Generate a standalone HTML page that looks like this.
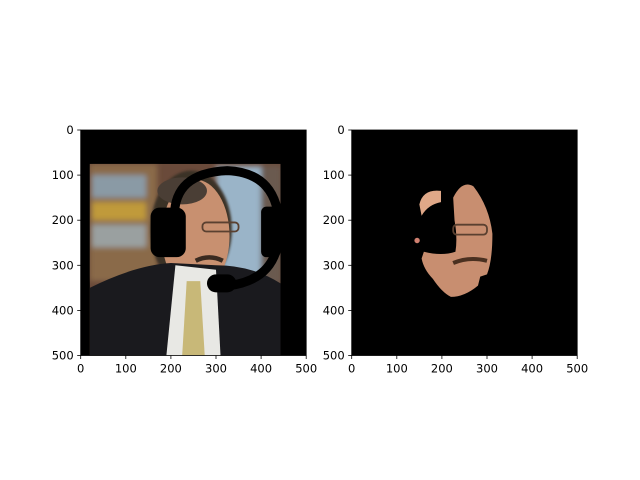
<!DOCTYPE html>
<html><head><meta charset="utf-8"><style>
html,body{margin:0;padding:0;background:#fff;width:640px;height:480px;overflow:hidden}
svg{position:absolute;left:0;top:0}
text{font-family:"DejaVu Sans","Liberation Sans",sans-serif;font-size:11.5px;fill:#000}
</style></head><body>
<svg id="fig" width="640" height="480">
<defs>
<filter id="bl" x="-10%" y="-10%" width="120%" height="120%"><feGaussianBlur stdDeviation="6"/></filter>
<filter id="bl2"><feGaussianBlur stdDeviation="3"/></filter>
<clipPath id="photoClip"><rect x="20" y="75" width="423" height="425"/></clipPath>
</defs>
<g transform="translate(80.7,130) scale(0.451)">
<rect width="500" height="500" fill="#000"/>
<g clip-path="url(#photoClip)">
<rect x="20" y="75" width="423" height="425" fill="#6a4a3a"/>
<g filter="url(#bl)">
<rect x="20" y="75" width="150" height="260" fill="#8a6a4a"/>
<rect x="25" y="160" width="120" height="40" fill="#c09a3a"/>
<rect x="25" y="100" width="120" height="50" fill="#8a9aa5"/>
<rect x="25" y="210" width="120" height="50" fill="#9aa0a0"/>
<rect x="300" y="80" width="140" height="260" fill="#9ab4c8"/>
<rect x="400" y="80" width="45" height="260" fill="#6a5a50"/>
</g>
<ellipse cx="245" cy="220" rx="90" ry="130" fill="#3a3028" filter="url(#bl2)"/>
<ellipse cx="255" cy="235" rx="75" ry="125" fill="#c89070"/>
<ellipse cx="225" cy="135" rx="55" ry="30" fill="#4a3e35"/>
<path d="M20 350 Q120 300 200 295 L300 300 Q380 300 443 340 L443 500 L20 500Z" fill="#1a1a1e"/>
<path d="M210 300 L300 310 L310 500 L190 500Z" fill="#e8e8e4"/>
<path d="M235 335 L265 335 L275 500 L225 500Z" fill="#c8b878"/>
<rect x="270" y="205" width="80" height="20" rx="8" fill="none" stroke="#5a4030" stroke-width="4"/>
<path d="M255 290 Q285 275 315 290" stroke="#3a2a20" stroke-width="10" fill="none"/>
</g>
<g>
<path d="M208 195 Q205 95 325 90 Q440 95 440 220 Q440 330 330 345" stroke="#000" stroke-width="20" fill="none"/>
<rect x="155" y="172" width="78" height="110" rx="20" fill="#000"/>
<rect x="400" y="170" width="43" height="112" rx="12" fill="#000"/>
<rect x="280" y="320" width="65" height="40" rx="20" fill="#000"/>
</g>
</g>
<g transform="translate(351.7,130) scale(0.451)">
<rect width="500" height="500" fill="#000"/>
<g>
<path d="M150 165 Q158 130 198 135 L198 160 Q170 165 155 190Z" fill="#e0a888"/>
<path d="M225 150 Q245 110 270 125 Q305 170 312 230 Q312 290 300 320 L285 325 L280 345 Q250 370 220 370 Q200 360 180 330 Q160 310 155 285 L160 270 Q200 280 230 270 Q235 240 228 200Z" fill="#c88e70"/>
<rect x="225" y="210" width="75" height="22" rx="8" fill="none" stroke="#5a4030" stroke-width="4"/>
<path d="M225 295 Q260 280 300 290" stroke="#4a3020" stroke-width="9" fill="none"/>
<circle cx="145" cy="245" r="6" fill="#d08070"/>
</g>
</g>
<g id="axes"></g>
</svg>
<script>
const tickValues=[0,100,200,300,400,500];
const tickLabels=["0","100","200","300","400","500"];
const axesX=[80.7,351.7];
const axTop=130, size=225.5;
const NS="http://www.w3.org/2000/svg";
const g=document.getElementById('axes');
function sx(x0,v){return x0+v/500*size;}
function sy(v){return axTop+v/500*size;}
function mk(t,a){const e=document.createElementNS(NS,t);for(const k in a)e.setAttribute(k,a[k]);g.appendChild(e);return e;}
axesX.forEach((x0,i)=>{
  const f=mk('rect',{x:x0,y:axTop,width:size,height:size,fill:'none',stroke:'#000','stroke-width':0.8});
  
  
  tickValues.forEach((v,j)=>{
    const X=sx(x0,v);
    const l=mk('line',{x1:X,x2:X,y1:axTop+size,y2:axTop+size+3.5,stroke:'#000','stroke-width':0.8});
    
    
    const t=mk('text',{x:X,y:axTop+size+17,'text-anchor':'middle'});
    t.textContent=tickLabels[j];
    
    
    const Y=sy(v);
    const l2=mk('line',{x1:x0-3.5,x2:x0,y1:Y,y2:Y,stroke:'#000','stroke-width':0.8});
    
    
    const t2=mk('text',{x:x0-7,y:Y+4,'text-anchor':'end'});
    t2.textContent=tickLabels[j];
    
    
  });
});
</script>
</body></html>
